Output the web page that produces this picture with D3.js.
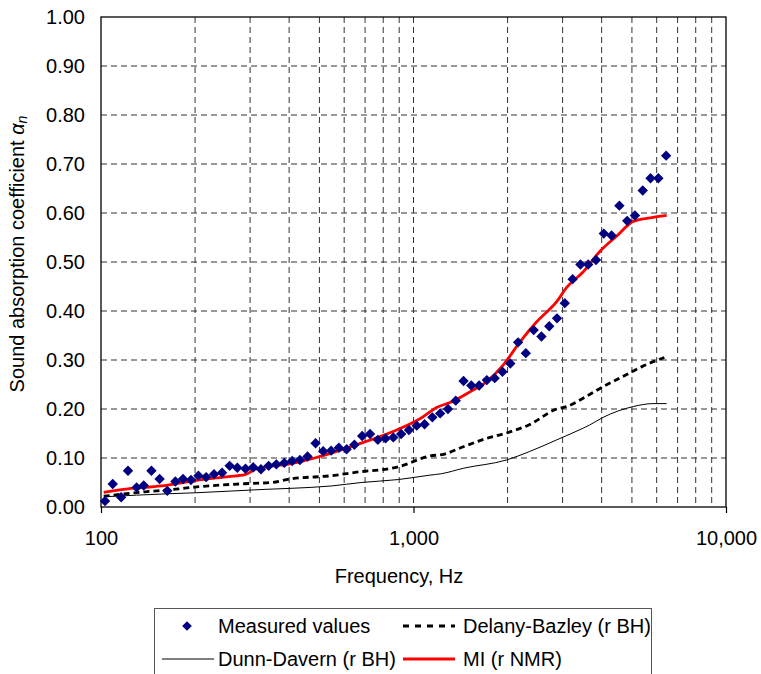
<!DOCTYPE html>
<html lang="en">
<head>
<meta charset="utf-8">
<title>Sound absorption coefficient</title>
<style>
  body { margin: 0; background: #fff; }
  svg { display: block; font-family: "Liberation Sans", Arial, sans-serif; }
  .grid line { stroke: #333; stroke-width: 1; stroke-dasharray: 6,4; }
  .axis text { font-size: 20px; fill: #000; }
  .axis .domain { display: none; }
  .legend text { font-size: 20px; fill: #000; }
</style>
</head>
<body>
<svg></svg>
<script src="https://cdn.jsdelivr.net/npm/d3@7"></script>
<script>
// measured points (1/12 octave)
var measuredFreq = [103, 109, 116, 122, 130, 137, 145, 154, 163, 173,
  183, 194, 205, 217, 230, 244, 258, 273, 290, 307,
  325, 344, 364, 386, 409, 433, 458, 486, 514, 545,
  577, 611, 647, 685, 726, 769, 814, 862, 913, 967,
  1024, 1085, 1149, 1217, 1289, 1365, 1446, 1531, 1622, 1717,
  1819, 1926, 2040, 2161, 2288, 2424, 2567, 2719, 2879, 3049,
  3230, 3421, 3623, 3837, 4064, 4304, 4558, 4828, 5113, 5415,
  5735, 6074, 6433];
var measuredAlpha = [0.012, 0.047, 0.020, 0.074, 0.040, 0.044, 0.074, 0.057, 0.033, 0.052,
  0.057, 0.055, 0.064, 0.061, 0.067, 0.070, 0.084, 0.080, 0.078, 0.081,
  0.077, 0.084, 0.087, 0.090, 0.094, 0.096, 0.103, 0.130, 0.114, 0.115,
  0.121, 0.118, 0.127, 0.145, 0.149, 0.137, 0.140, 0.142, 0.149, 0.157,
  0.166, 0.169, 0.183, 0.191, 0.200, 0.217, 0.257, 0.248, 0.248, 0.259,
  0.263, 0.276, 0.293, 0.336, 0.314, 0.361, 0.348, 0.369, 0.385, 0.416,
  0.465, 0.495, 0.495, 0.504, 0.558, 0.554, 0.615, 0.584, 0.595, 0.646,
  0.671, 0.671, 0.717];

// model curves
var delanyFreq = [102, 138, 151, 177, 202, 243, 299, 352, 402, 548, 657, 894, 1128, 1257, 1443, 1715, 1985, 2348, 2872, 3092, 3580, 3952, 4900, 5400, 6350];
var delanyAlpha = [0.022, 0.031, 0.033, 0.037, 0.041, 0.045, 0.048, 0.050, 0.057, 0.064, 0.071, 0.082, 0.104, 0.108, 0.123, 0.140, 0.151, 0.168, 0.200, 0.205, 0.226, 0.242, 0.273, 0.287, 0.305];

var dunnFreq = [103, 164, 200, 335, 402, 548, 680, 894, 1128, 1230, 1443, 1985, 2348, 2872, 3494, 3654, 4045, 5051, 5843, 6459];
var dunnAlpha = [0.021, 0.027, 0.029, 0.036, 0.038, 0.043, 0.050, 0.056, 0.065, 0.068, 0.079, 0.096, 0.113, 0.137, 0.161, 0.167, 0.183, 0.205, 0.211, 0.211];

var miFreq = [102, 122, 156, 200, 256, 289, 315, 402, 489, 657, 860, 1049, 1186, 1341, 1517, 1715, 1939, 2192, 2479, 2872, 3092, 3494, 3952, 4470, 5051, 5713, 6459];
var miAlpha = [0.030, 0.037, 0.043, 0.054, 0.062, 0.066, 0.078, 0.088, 0.101, 0.127, 0.154, 0.180, 0.203, 0.216, 0.235, 0.256, 0.290, 0.337, 0.378, 0.419, 0.448, 0.480, 0.522, 0.553, 0.583, 0.590, 0.595];

var yTicks = [0, 0.1, 0.2, 0.3, 0.4, 0.5, 0.6, 0.7, 0.8, 0.9, 1.0];
var xTicks = [100, 1000, 10000];
var xGrid = [200, 300, 400, 500, 600, 700, 800, 900, 1000, 2000, 3000, 4000, 5000, 6000, 7000, 8000, 9000];
var legendNames = ["Measured values", "Delany-Bazley (r BH)", "Dunn-Davern (r BH)", "MI (r NMR)"];

var width = 761, height = 674;
var plot = { left: 101, right: 726, top: 17, bottom: 507 };

var svg = d3.select("svg").attr("width", width).attr("height", height);

var x = d3.scaleLog().domain([100, 10000]).range([plot.left, plot.right]);
var y = d3.scaleLinear().domain([0, 1]).range([plot.bottom, plot.top]);

function zip(fs, vs) {
  return fs.map(function(f, i) { return { f: f, v: vs[i] }; });
}

// grid
var grid = svg.append("g").attr("class", "grid");
grid.selectAll("line.h")
  .data(yTicks.filter(function(d) { return d > 0 && d < 1; }))
  .enter().append("line")
  .attr("x1", plot.left).attr("x2", plot.right)
  .attr("y1", function(d) { return y(d); })
  .attr("y2", function(d) { return y(d); });
grid.selectAll("line.v")
  .data(xGrid)
  .enter().append("line")
  .attr("y1", plot.top).attr("y2", plot.bottom)
  .attr("x1", function(d) { return x(d); })
  .attr("x2", function(d) { return x(d); });

// axes
svg.append("g")
  .attr("class", "axis")
  .attr("transform", "translate(" + plot.left + ",0)")
  .call(d3.axisLeft(y).tickValues(yTicks).tickFormat(d3.format(".2f")).tickSize(0).tickPadding(16));

var xAxis = svg.append("g")
  .attr("class", "axis")
  .attr("transform", "translate(0," + plot.bottom + ")")
  .call(d3.axisBottom(x).tickValues(xTicks).tickFormat(d3.format(",")).tickSize(6).tickPadding(18));
xAxis.selectAll(".tick line").attr("stroke", "#000").attr("stroke-width", 1.2);

// plot frame
svg.append("rect")
  .attr("x", plot.left).attr("y", plot.top)
  .attr("width", plot.right - plot.left).attr("height", plot.bottom - plot.top)
  .attr("fill", "none").attr("stroke", "#000").attr("stroke-width", 1.3);

var line = d3.line()
  .x(function(d) { return x(d.f); })
  .y(function(d) { return y(d.v); })
  .curve(d3.curveMonotoneX);

svg.append("path")
  .datum(zip(dunnFreq, dunnAlpha))
  .attr("d", line)
  .attr("fill", "none").attr("stroke", "#000").attr("stroke-width", 1);

svg.append("path")
  .datum(zip(delanyFreq, delanyAlpha))
  .attr("d", line)
  .attr("fill", "none").attr("stroke", "#000").attr("stroke-width", 2.8)
  .attr("stroke-dasharray", "6,4");

svg.append("path")
  .datum(zip(miFreq, miAlpha))
  .attr("d", line)
  .attr("fill", "none").attr("stroke", "#ff0000").attr("stroke-width", 2.8);

function diamond(r) {
  return "M0," + (-r) + "L" + r + ",0L0," + r + "L" + (-r) + ",0Z";
}

svg.append("g")
  .selectAll("path")
  .data(zip(measuredFreq, measuredAlpha))
  .enter().append("path")
  .attr("d", diamond(5.2))
  .attr("fill", "#000080")
  .attr("transform", function(d) { return "translate(" + x(d.f) + "," + y(d.v) + ")"; });

// axis titles
var ylab = svg.append("text")
  .attr("transform", "translate(24,254) rotate(-90)")
  .attr("text-anchor", "middle")
  .style("font-size", "20px");
ylab.append("tspan").text("Sound absorption coefficient ");
ylab.append("tspan").style("font-style", "italic").text("\u03b1");
ylab.append("tspan").style("font-style", "italic").style("font-size", "14px").attr("dy", 3).text("n");

svg.append("text")
  .attr("x", 399).attr("y", 583)
  .attr("text-anchor", "middle")
  .style("font-size", "20px")
  .text("Frequency, Hz");

// legend
var legend = svg.append("g").attr("class", "legend");
legend.append("rect")
  .attr("x", 154.5).attr("y", 608.5)
  .attr("width", 497).attr("height", 80)
  .attr("fill", "#fff").attr("stroke", "#555").attr("stroke-width", 1);

var item = legend.selectAll("g.item")
  .data(legendNames)
  .enter().append("g")
  .attr("transform", function(d, i) {
    var col = (i === 0 || i === 2) ? 0 : 1;
    var row = i < 2 ? 0 : 1;
    return "translate(" + (col === 0 ? 162 : 403) + "," + (row === 0 ? 626 : 659) + ")";
  });

item.each(function(d, i) {
  var g = d3.select(this);
  if (i === 0) {
    g.append("path").attr("d", diamond(4.8)).attr("fill", "#000080").attr("transform", "translate(25,0)");
  } else if (i === 1) {
    g.append("line").attr("x1", 0).attr("x2", 52).attr("stroke", "#000").attr("stroke-width", 2.8).attr("stroke-dasharray", "6,6");
  } else if (i === 2) {
    g.append("line").attr("x1", 0).attr("x2", 52).attr("stroke", "#000").attr("stroke-width", 1);
  } else {
    g.append("line").attr("x1", 0).attr("x2", 52).attr("stroke", "#ff0000").attr("stroke-width", 2.8);
  }
  g.append("text")
    .attr("x", i === 0 || i === 2 ? 56 : 60)
    .attr("dy", "0.35em")
    .text(d);
});
</script>
</body>
</html>
